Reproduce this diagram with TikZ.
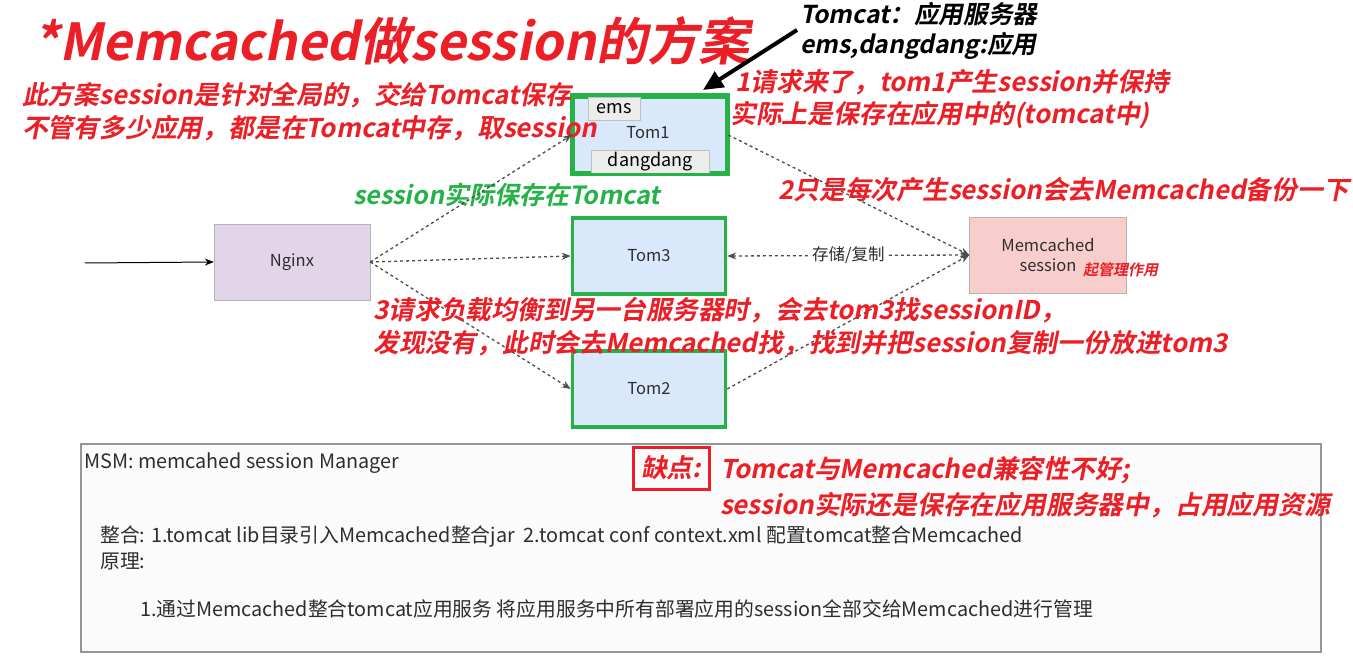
\documentclass[tikz,border=0pt]{standalone}
\usepackage{fontspec}
\usetikzlibrary{arrows.meta}
\newfontfamily\cjk{Noto Sans CJK SC}
\newfontfamily\cjkbi[FakeSlant=0.2]{Noto Sans CJK SC Bold}
\definecolor{memred}{RGB}{236,30,38}
\definecolor{memgreen}{RGB}{38,178,72}
\definecolor{tomblue}{RGB}{218,232,252}
\definecolor{nginxpurple}{RGB}{225,213,231}
\definecolor{mcpink}{RGB}{248,206,204}
\definecolor{boxgray}{RGB}{150,150,150}
\definecolor{txtgray}{RGB}{45,45,45}
\tikzset{
  redtxt/.style={anchor=west, inner sep=0pt, text=memred, font=\cjkbi\fontsize{25.8}{30}\selectfont},
  blacktxt/.style={anchor=west, inner sep=0pt, text=black, font=\cjkbi\fontsize{24.6}{30}\selectfont},
  greentxt/.style={anchor=west, inner sep=0pt, text=memgreen, font=\cjkbi\fontsize{25}{30}\selectfont},
  graytxt/.style={anchor=west, inner sep=0pt, text=txtgray, font=\cjk\fontsize{19.8}{22}\selectfont},
  tombox/.style={draw=memgreen, line width=3.5pt, fill=tomblue, minimum width=153pt, minimum height=76pt,
    font=\cjk\fontsize{16.5}{20}\selectfont, text=txtgray},
  appbox/.style={draw=boxgray!60, fill=green!8!gray!15, inner sep=2pt, minimum height=23pt,
    font=\cjk\fontsize{18}{20}\selectfont, text=black},
  flow/.style={draw=black!70, line width=1.3pt, dash pattern=on 3pt off 3pt, -{Stealth[length=9pt,width=7pt]}},
}
\begin{document}
\begin{tikzpicture}[x=1pt, y=-1pt]
    \useasboundingbox (0,0) rectangle (1353,663);
    \fill[white] (0,0) rectangle (1353,663);

    % Servers
    \node[draw=boxgray!70, fill=nginxpurple, minimum width=156pt, minimum height=76pt,
      font=\cjk\fontsize{16.5}{20}\selectfont, text=txtgray] (nginx) at (292,262) {Nginx};
    \node[tombox] (tom1) at (650,135) {};
    \node[appbox, anchor=north west, minimum width=52pt] (ems) at (588,97) {ems};
    \node[appbox, anchor=south west, minimum width=118pt] (dangdang) at (591,173) {dangdang};
    \node[font=\cjk\fontsize{16.5}{20}\selectfont, text=txtgray] (tom1lbl) at (648,133) {Tom1};
    \draw[memgreen, line width=3.5pt] (tom1.north west) rectangle (tom1.south east);
    \node[tombox] (tom3) at (649,256) {Tom3};
    \node[tombox] (tom2) at (649,389) {Tom2};
    \node[draw=boxgray!70, fill=mcpink, minimum width=157pt, minimum height=76pt, align=center,
      font=\cjk\fontsize{16.5}{20}\selectfont, text=txtgray] (memc) at (1048,255) {Memcached\\session\hspace{25pt}};
    \node[redtxt, font=\cjkbi\fontsize{15}{18}\selectfont] (mgr) at (1083,270) {起管理作用};

    % Title and notes
    \node[redtxt, font=\cjkbi\fontsize{51}{60}\selectfont] (title) at (33,41) {*Memcached做session的方案};
    \node[redtxt] (note1a) at (22,95) {此方案session是针对全局的，交给Tomcat保存};
    \node[redtxt] (note1b) at (22,128) {不管有多少应用，都是在Tomcat中存，取session};
    \node[blacktxt] (tomnote) at (800,14) {Tomcat：应用服务器};
    \node[blacktxt] (emsnote) at (800,46) {ems,dangdang:应用};
    \node[redtxt] (step1a) at (735,82) {1请求来了，tom1产生session并保持};
    \node[redtxt] (step1b) at (730,115) {实际上是保存在应用中的(tomcat中)};
    \node[greentxt] (savenote) at (353,195) {session实际保存在Tomcat};
    \node[redtxt] (step2) at (778,190) {2只是每次产生session会去Memcached备份一下};

    % Connectors
    \coordinate (inlet) at (85,263);
    \draw[black, line width=1pt, -{Stealth[length=9pt,width=7pt]}] (inlet) -- (nginx.west);
    \draw[flow] (nginx.east) -- (tom1.west);
    \draw[flow] (nginx.east) -- (tom3.west);
    \draw[flow] (nginx.east) -- (tom2.west);
    \draw[flow] (tom1.east) -- (memc.west);
    \draw[flow] (tom2.east) -- (memc.west);
    \draw[flow, {Stealth[length=9pt,width=7pt]}-{Stealth[length=9pt,width=7pt]}] (tom3.east) -- (memc.west)
      node[midway, fill=white, inner sep=1pt, font=\cjk\fontsize{16.5}{20}\selectfont, text=txtgray] (storelbl) {存储/复制};
    \coordinate (arrowtail) at (797,30);
    \coordinate (arrowhead) at (703,90);
    \draw[black, line width=4pt, -{Triangle[length=20pt,width=18pt]}] (arrowtail) -- (arrowhead);

    \node[redtxt] (step3a) at (373,310) {3请求负载均衡到另一台服务器时，会去tom3找sessionID，};
    \node[redtxt] (step3b) at (373,343) {发现没有，此时会去Memcached找，找到并把session复制一份放进tom3};

    % MSM box
    \node[draw=boxgray, line width=1.5pt, fill=gray!3, minimum width=1240pt, minimum height=208pt, anchor=north west] (msm) at (80,443) {};
    \node[graytxt] (msmtitle) at (84,463) {MSM: memcahed session Manager};
    \node[graytxt] (integ) at (100,537) {整合: 1.tomcat lib目录引入Memcached整合jar\ \ 2.tomcat conf context.xml 配置tomcat整合Memcached};
    \node[graytxt] (princ) at (100,561) {原理:};
    \node[graytxt] (princ1) at (140,609) {1.通过Memcached整合tomcat应用服务 将应用服务中所有部署应用的session全部交给Memcached进行管理};
    \node[draw=memred, line width=3pt, text=memred, font=\cjkbi\fontsize{25.8}{30}\selectfont, minimum width=76pt, minimum height=42pt] (cons) at (671,468) {缺点:};
    \node[redtxt] (cons1) at (720,470) {Tomcat与Memcached兼容性不好;};
    \node[redtxt] (cons2) at (720,505) {session实际还是保存在应用服务器中，占用应用资源};
\end{tikzpicture}
\end{document}
